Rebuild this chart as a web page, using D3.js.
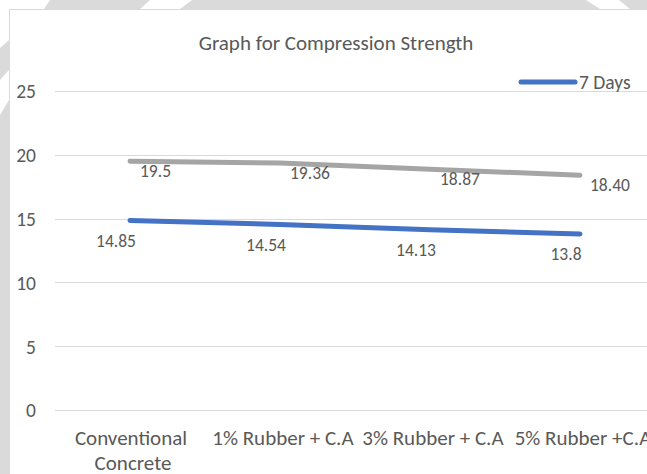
<!DOCTYPE html>
<html>
<head>
<meta charset="utf-8">
<script src="https://cdn.jsdelivr.net/npm/d3@7/dist/d3.min.js"></script>
<style>
  html, body { margin: 0; padding: 0; background: #ffffff; }
  svg { display: block; }
  text { font-family: Carlito, Calibri, Lato, "Noto Sans", sans-serif; fill: #595959; }
</style>
</head>
<body>
<svg id="chart" width="647" height="474"></svg>
<script>
// ---- data ----
const categories = ["Conventional Concrete", "1% Rubber + C.A", "3% Rubber + C.A", "5% Rubber +C.A"];
const days7 = [14.85, 14.54, 14.13, 13.8];
const days28 = [19.5, 19.36, 18.87, 18.40];
const days7Labels = ["14.85", "14.54", "14.13", "13.8"];
const days28Labels = ["19.5", "19.36", "18.87", "18.40"];
const yTicks = [0, 5, 10, 15, 20, 25];
const title = "Graph for Compression Strength";

const series = [
  { name: "28 Days", values: days28, labels: days28Labels, color: "#A5A5A5", dx: 10, dy: 10, anchor: "start" },
  { name: "7 Days", values: days7, labels: days7Labels, color: "#4472C4", dx: -14, dy: 20, anchor: "middle" }
];

const svg = d3.select("#chart");

// ---- background watermark bands ----
const bg = svg.append("g");
const bandColor = "#dadada";
const topBands = [[[50,0],[150,0],[140,9],[44,9]], [[192,0],[586,0],[600,9],[180,9]], [[619,0],[647,0],[647,9],[630,9]]];
const leftBands = [[[0,48],[9,40],[9,70],[0,80]], [[0,115],[9,100],[9,474],[0,474]]];
topBands.concat(leftBands).forEach(p => {
  bg.append("polygon").attr("points", p.map(q => q.join(",")).join(" ")).attr("fill", bandColor);
});

// chart area
svg.append("rect").attr("x", 9.5).attr("y", 9.5).attr("width", 700).attr("height", 600)
  .attr("fill", "#ffffff").attr("stroke", "#d9d9d9").attr("stroke-width", 1);

// ---- scales ----
const x = d3.scaleBand().domain(categories).range([55, 655]).padding(0);
const cx = c => x(c) + x.bandwidth() / 2;
const y = d3.scaleLinear().domain([0, 25]).range([410, 91]);

// gridlines
const grid = svg.append("g");
grid.selectAll("line").data(yTicks).join("line")
  .attr("x1", 55).attr("x2", 655)
  .attr("y1", d => Math.round(y(d)) + 0.5).attr("y2", d => Math.round(y(d)) + 0.5)
  .attr("stroke", "#d9d9d9").attr("stroke-width", 1);

// y axis labels
const yAxis = d3.axisLeft(y).tickValues(yTicks).tickSize(0).tickPadding(0);
const yg = svg.append("g").attr("transform", "translate(36,0)").call(yAxis);
yg.select(".domain").remove();
yg.selectAll("text").style("font-size", "19.5px").attr("fill", "#595959").attr("dy", "0.35em");

// x axis labels
const xg = svg.append("g");
categories.forEach(c => {
  const words = c === "Conventional Concrete" ? ["Conventional", "Concrete"] : [c];
  const t = xg.append("text").attr("text-anchor", "middle").style("font-size", "21px");
  words.forEach((w, i) => {
    t.append("tspan").attr("x", cx(c) + (i === 0 && words.length > 1 ? 1 : 3)).attr("y", 445 + i * 25).text(w);
  });
});

// lines
const line = d3.line().x((d, i) => cx(categories[i])).y(d => y(d));
series.forEach(s => {
  svg.append("path").datum(s.values).attr("d", line)
    .attr("fill", "none").attr("stroke", s.color).attr("stroke-width", 5)
    .attr("stroke-linecap", "round").attr("stroke-linejoin", "round");
});

// data labels
series.forEach(s => {
  svg.append("g").selectAll("text").data(s.values).join("text")
    .attr("x", (d, i) => cx(categories[i]) + s.dx)
    .attr("y", d => y(d) + s.dy)
    .attr("dy", "0.35em")
    .attr("text-anchor", s.anchor)
    .style("font-size", "17.5px")
    .text((d, i) => s.labels[i]);
});

// legend (only 7 Days visible)
const lg = svg.append("g");
lg.append("line").attr("x1", 521).attr("x2", 575).attr("y1", 82).attr("y2", 82)
  .attr("stroke", "#4472C4").attr("stroke-width", 5).attr("stroke-linecap", "round");
lg.append("text").attr("x", 579).attr("y", 82).attr("dy", "0.35em").style("font-size", "19.5px").text("7 Days");

// title
svg.append("text").attr("x", 336).attr("y", 43).attr("dy", "0.35em").attr("text-anchor", "middle")
  .style("font-size", "21px").text(title);
</script>
</body>
</html>
